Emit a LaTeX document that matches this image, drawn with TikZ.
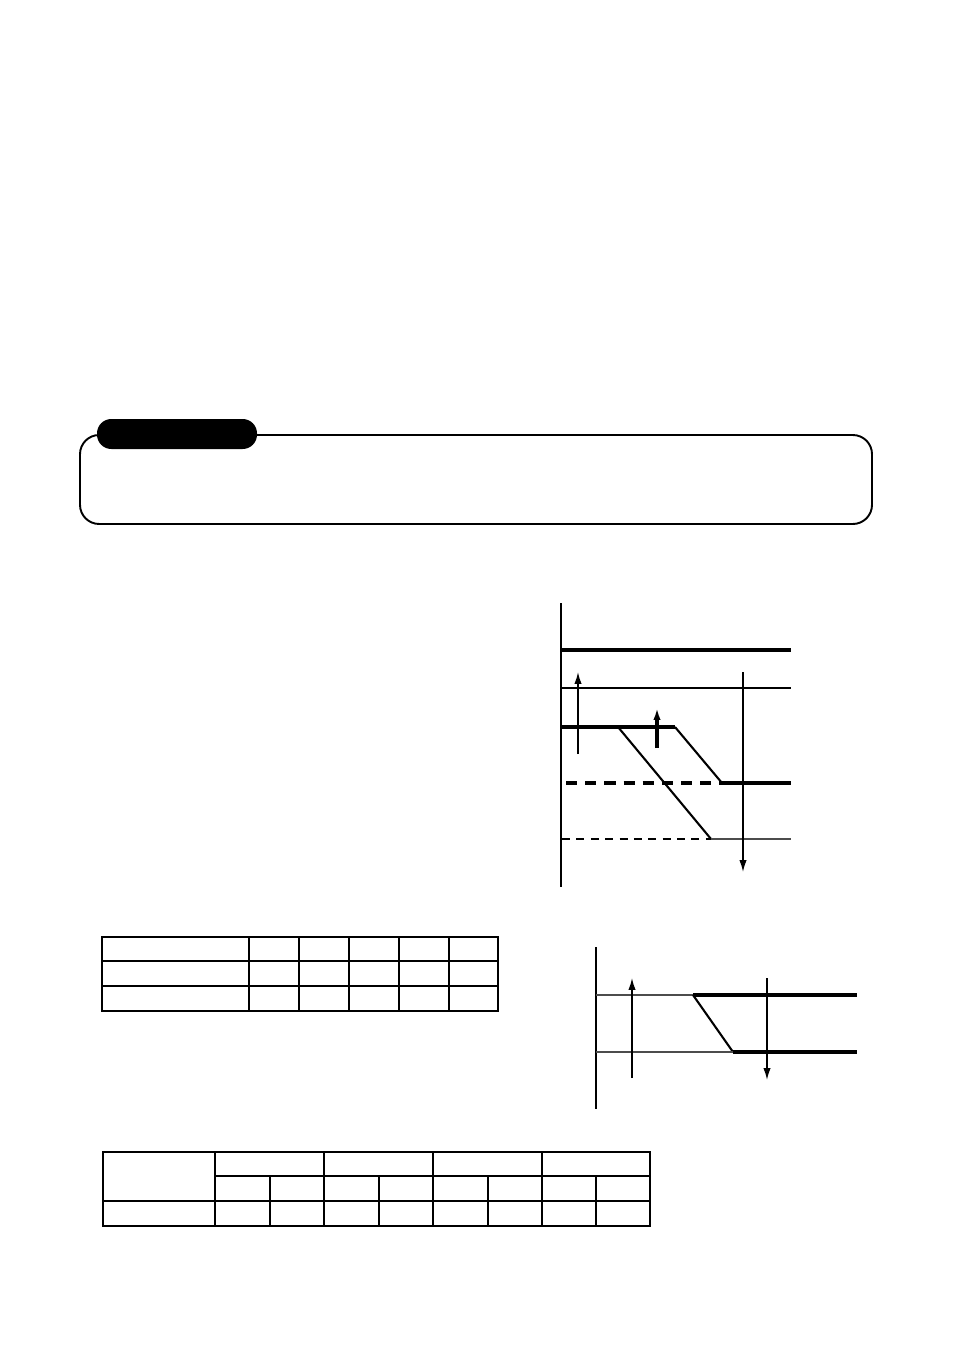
\documentclass[tikz,border=0pt]{standalone}
\usetikzlibrary{arrows.meta}

\tikzset{
  thickln/.style={line width=1.9pt},
  thinln/.style={line width=0.9pt},
  greyln/.style={line width=1.2pt,black!70},
  arr/.style={line width=0.9pt,-{Latex[length=2.6mm,width=1.6mm]}},
  tabframe/.style={line width=1.8pt},
  tabgrid/.style={line width=1.1pt}
}

\begin{document}
\begin{tikzpicture}[x=0.22mm,y=-0.22mm]
 \useasboundingbox (0,0) rectangle (954,1348);
 % note box with black tab
 \draw[line width=1.2pt,rounded corners=12pt] (80,435) rectangle (872,524);
 \fill[rounded corners=9pt] (97,419) rectangle (257,449);

 % upper graph
 \coordinate (A0) at (561,603);
 \coordinate (A1) at (561,887);
 \draw[thinln] (A0) -- (A1);
 \draw[thickln] (561,650) -- (791,650);
 \draw[thinln] (561,688) -- (791,688);
 \coordinate (P1) at (561,727);
 \coordinate (P2) at (618,727);
 \coordinate (P3) at (675,727);
 \coordinate (P4) at (722,783);
 \coordinate (P5) at (791,783);
 \coordinate (Q1) at (711,839);
 \coordinate (Q2) at (791,839);
 \draw[thickln] (P1) -- (P3);
 \draw[line width=1.3pt] (P3) -- (P4);
 \draw[thickln] (P4) -- (P5);
 \draw[line width=1.3pt] (P2) -- (Q1);
 \draw[greyln,line width=1.7pt] (Q1) -- (Q2);
 \draw[thickln,dash pattern=on 7pt off 5pt] (566,783) -- (P4);
 \draw[thinln,dash pattern=on 5pt off 4pt] (562,839) -- (Q1);
 \draw[arr] (578,754) -- (578,672);
 \draw[arr,line width=1.9pt] (657,748) -- (657,708);
 \draw[arr] (743,672) -- (743,872);

 % lower graph
 \coordinate (B0) at (596,947);
 \coordinate (B1) at (596,1109);
 \draw[thinln] (B0) -- (B1);
 \coordinate (R1) at (693,995);
 \coordinate (R2) at (733,1052);
 \draw[greyln] (596,995) -- (R1);
 \draw[thickln] (R1) -- (857,995);
 \draw[line width=1.3pt] (R1) -- (R2);
 \draw[greyln] (596,1052) -- (R2);
 \draw[thickln] (R2) -- (857,1052);
 \draw[arr] (632,1078) -- (632,978);
 \draw[arr] (767,978) -- (767,1080);

 % first table
 \foreach \y in {961,986}
   \draw[tabgrid] (102,\y) -- (498,\y);
 \foreach \x in {249,299,349,399,449}
   \draw[tabgrid] (\x,937) -- (\x,1011);
 \draw[tabframe] (102,937) rectangle (498,1011);

 % second table
 \draw[tabgrid] (215,1176) -- (650,1176);
 \draw[tabgrid] (103,1201) -- (650,1201);
 \foreach \x in {215,324,433,542}
   \draw[tabgrid] (\x,1152) -- (\x,1226);
 \foreach \x in {270,379,488,596}
   \draw[tabgrid] (\x,1176) -- (\x,1226);
 \draw[tabframe] (103,1152) rectangle (650,1226);
\end{tikzpicture}
\end{document}
